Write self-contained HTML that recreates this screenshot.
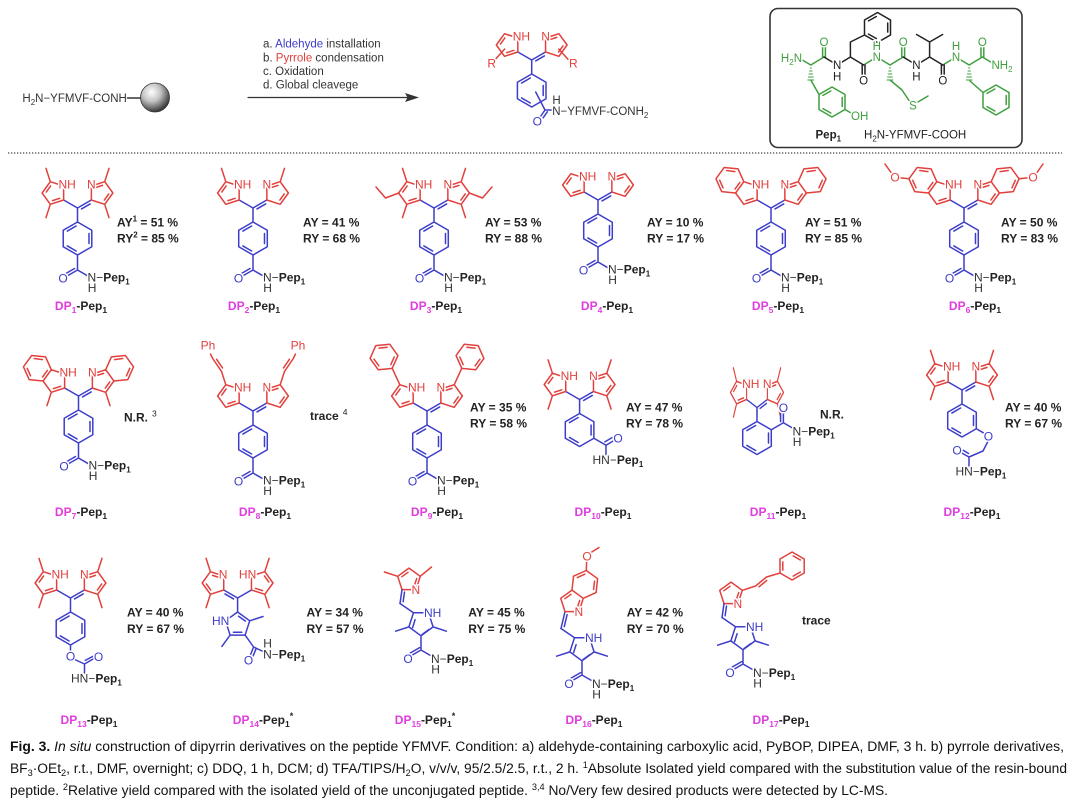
<!DOCTYPE html>
<html><head><meta charset="utf-8">
<style>
html,body{margin:0;padding:0;background:#fff;width:1080px;height:803px;overflow:hidden}
svg{display:block}
text{font-family:"Liberation Sans",Arial,sans-serif}
.al{font-size:12px;stroke:#fff;stroke-width:3px;paint-order:stroke;stroke-linejoin:round}
.ps{font-size:11.5px}
.tr{fill:#e2403c}.tb{fill:#3d3dc9}.tk{fill:#333}.tg{fill:#3f9f3f}.tK{fill:#222}
.bd{font-weight:bold;fill:#222}
.ay{font-size:12px;font-weight:bold;fill:#222}
.dl{font-size:12px;font-weight:bold;fill:#222}
.m{fill:#e03ce0}
</style></head><body>
<svg width="1080" height="803" viewBox="0 0 1080 803" stroke-width="1.5" stroke-linecap="round" stroke-linejoin="round">
<defs>
<radialGradient id="ballg" cx="0.38" cy="0.32" r="0.7">
<stop offset="0" stop-color="#ffffff"/><stop offset="0.45" stop-color="#c4c4c4"/><stop offset="0.85" stop-color="#5a5a5a"/><stop offset="1" stop-color="#333"/>
</radialGradient>
<g id="core">
<path stroke="#3d3dc9" fill="none" d="M0 0L-13.86 -8M0 0L13.86 -8M4 0.92L12.66 -4.08"/>
<path stroke="#e2403c" fill="none" d="M-13.86 -8L-13.86 -22L-27.2 -26.3L-35.4 -15L-27.2 -3.7Z M13.86 -8L13.86 -22L27.2 -26.3L35.4 -15L27.2 -3.7Z M-17.8 -9.66L-25 -7.35 M17.8 -20.34L25 -22.65 M26.83 -7.94L31.25 -14.04"/>
</g>
<path id="c45" stroke="#e2403c" fill="none" d="M-31.25 -15.96L-26.83 -22.06"/>
<path id="me5" stroke="#e2403c" fill="none" d="M-27.2 -26.3L-31.5 -39.6M27.2 -26.3L31.5 -39.6"/>
<path id="me3" stroke="#e2403c" fill="none" d="M-27.2 -3.7L-31.5 9.6M27.2 -3.7L31.5 9.6"/>
<path id="hex" stroke="#3d3dc9" fill="none" d="M0 0L0 14 M0 14L14.29 22.25L14.29 38.75L0 47L-14.29 38.75L-14.29 22.25Z M11.49 25.46L11.49 35.54M-1.38 42.97L-10.11 37.93M-10.11 23.07L-1.38 18.03"/>
<path id="pam" stroke="#3d3dc9" fill="none" d="M0 0L0 14 M0 14L14.29 22.25L14.29 38.75L0 47L-14.29 38.75L-14.29 22.25Z M11.49 25.46L11.49 35.54M-1.38 42.97L-10.11 37.93M-10.11 23.07L-1.38 18.03 M0 47L0 62 M0 62L-10.4 68 M-3 60.5L-11.8 65.6 M0 62L10 67.8"/>
<path id="ind" stroke="#e2403c" fill="none" d="M-27.2 -26.3L-32.89 -39.09L-46.81 -40.55L-55.04 -29.22L-49.35 -16.43L-35.4 -15 M-36.08 -36.33L-44.21 -37.46 M-51.3 -27.7L-47.97 -20.23 M-35.96 -18.99L-31.18 -25.6 M27.2 -26.3L32.89 -39.09L46.81 -40.55L55.04 -29.22L49.35 -16.43L35.4 -15 M36.08 -36.33L44.21 -37.46 M51.3 -27.7L47.97 -20.23"/>
<path id="bp" stroke="#3d3dc9" fill="none" d="M7.5 -10.3L-7.5 -10.3L-12.1 3.9L0 12.8L12.1 3.9Z M-5.9 -3.3L-8.4 4.6 M1.1 11.5L7.8 6.6 M-12.1 3.9L-25.4 8.2 M12.1 3.9L25.4 8.2 M0 12.8L0 27 M0 27L-9.5 32.5 M-1.4 24.6L-10.9 30.1 M0 27L9.5 32.5 M-7.5 -10.3L-21 -19.5"/>
<path id="tp" stroke="#e2403c" fill="none" d="M-7 9.63L7 9.63L11.3 -3.7L0 -11.9L-11.3 -3.7Z M5.3 5.7L7.7 -1.5 M-7.1 -3.3L-1 -7.7"/>
<path id="chd" stroke="#3d3dc9" fill="none" d="M-9 23.5L-7 9.63 M-5.9 21.8L-4.5 12.1"/>
</defs>

<!-- ===== TOP SCHEME ===== -->
<text x="22.4" y="102" class="ps" fill="#333">H<tspan font-size="8" dy="3">2</tspan><tspan dy="-3">N−YFMVF-CONH</tspan></text>
<path d="M127.5 98L141 98" stroke="#333" fill="none"/>
<circle cx="155" cy="97.5" r="14.5" fill="url(#ballg)" stroke="#333" stroke-width="0.8"/>

<g class="ps" fill="#333">
<text x="263" y="47.5">a. <tspan fill="#3d3dc9">Aldehyde</tspan> installation</text>
<text x="263" y="61.5">b. <tspan fill="#e2403c">Pyrrole</tspan> condensation</text>
<text x="263" y="75">c. Oxidation</text>
<text x="263" y="88.5">d. Global cleavege</text>
</g>
<path d="M248 97.5L408 97.5" stroke="#333" stroke-width="1.2" fill="none"/>
<polygon points="419,97.5 405,93 407.5,97.5 405,102" fill="#333"/>

<g transform="translate(531.7,60)">
<use href="#core"/><use href="#c45"/><use href="#hex"/>
<path stroke="#e2403c" fill="none" d="M-27 -11L-36.5 -0.5M27 -11L36.5 -0.5"/>
<path stroke="#3d3dc9" fill="none" d="M4 32L13.3 50 M13.3 50L8.8 56.5 M15.6 51.8L11.4 57.8 M13.3 50L20.5 50"/>
<text class="al tr" x="-19" y="-19.7">NH</text><text class="al tr" x="9.5" y="-19.7">N</text>
<text class="al tr" x="-40" y="7.6" text-anchor="middle">R</text><text class="al tr" x="41.6" y="7.6" text-anchor="middle">R</text>
<text class="al tb" x="5.6" y="65.3" text-anchor="middle">O</text>
<text class="al tk ps" x="20.7" y="44.1">H</text>
<text class="al tk ps" x="20.5" y="54.8">N−YFMVF-CONH<tspan font-size="8" dy="3">2</tspan></text>
</g>

<!-- Pep box -->
<rect x="770" y="8.5" width="252" height="139" rx="8" fill="none" stroke="#333" stroke-width="1.6"/>
<path stroke="#3f9f3f" fill="none" d="M799 58L810.8 65L824 57 M822.6 57L822.6 46.5 M825.4 57L825.4 46.5 M810.8 80L819 94.5 M819 94.5L832 87L845 94.5L845 109.5L832 117L819 109.5Z M842.2 97.5L842.2 106.5 M830.8 113L823 108.6 M823 95.4L830.8 91 M845 109.5L851 113
M863.6 65L876.8 57L890 65L903.2 57 M901.8 57L901.8 46.5 M904.6 57L904.6 46.5 M890 80L902 90L909 100.5 M918 102L928 96
M942.8 65L956 57L969.2 65L982.4 57L995.6 65 M981 57L981 46.5 M983.8 57L983.8 46.5 M970 81L983 92.5 M983 92.5L996 85L1009 92.5L1009 107.5L996 115L983 107.5Z M1006.2 95.5L1006.2 104.5 M994.8 111L987 106.6 M987 93.4L994.8 89"/>
<path stroke="#3f9f3f" fill="none" stroke-width="1" d="M810.2 68h1.2M809.6 71h2.4M809 74h3.6M808.4 77h4.8M807.8 80h6 M889.4 68h1.2M888.8 71h2.4M888.2 74h3.6M887.6 77h4.8M887 80h6 M968.6 68h1.2M968 71h2.4M967.4 74h3.6M966.8 77h4.8M966.2 80h6"/>
<path stroke="#222" fill="none" d="M824 57L837.2 65L850.4 57L863.6 65 M862.2 65L862.2 75.5 M865 65L865 75.5 M850.4 57L850.4 42L864.5 35 M864.5 35L864.5 20L877.5 12.5L890.5 20L890.5 35L877.5 42.5Z M887.7 23L887.7 32 M876.3 38.5L868.5 34.1 M868.5 20.9L876.3 16.5
M903.2 57L916.4 65L929.6 57L942.8 65 M941.4 65L941.4 75.5 M944.2 65L944.2 75.5 M929.6 57L929.6 42 M916.6 34.5L929.6 42L942.6 34.5"/>
<g class="al ps" text-anchor="middle">
<text class="tg" x="802" y="62" text-anchor="end">H<tspan font-size="8" dy="3">2</tspan><tspan dy="-3">N</tspan></text>
<text class="tg" x="824" y="46.2">O</text><text class="tK" x="863.6" y="84.7">O</text><text class="tg" x="903.2" y="46.2">O</text><text class="tK" x="942.8" y="84.7">O</text><text class="tg" x="982.4" y="46.2">O</text>
<text class="tK" x="837.2" y="69.2">N</text><text class="tK" x="837.2" y="80.7">H</text>
<text class="tg" x="876.8" y="61.2">N</text><text class="tg" x="876.8" y="50.2">H</text>
<text class="tK" x="916.4" y="69.2">N</text><text class="tK" x="916.4" y="80.7">H</text>
<text class="tg" x="956" y="61.2">N</text><text class="tg" x="956" y="50.2">H</text>
<text class="tg" x="991.5" y="69.2" text-anchor="start">NH<tspan font-size="8" dy="3">2</tspan></text>
<text class="tg" x="913" y="109.7">S</text>
<text class="tg" x="851" y="119.8" text-anchor="start">OH</text>
</g>
<text x="815.5" y="138.5" class="ps bd">Pep<tspan font-size="8" dy="3">1</tspan></text>
<text x="864" y="138.5" class="ps" fill="#222">H<tspan font-size="8" dy="3">2</tspan><tspan dy="-3">N-YFMVF-COOH</tspan></text>

<line x1="8" y1="153" x2="1062" y2="153" stroke="#444" stroke-width="1.2" stroke-dasharray="1.3 1.7" stroke-linecap="butt"/>

<!-- ===== ROW 1 ===== -->
<g transform="translate(77.5,208)">
<use href="#core"/><use href="#c45"/><use href="#me5"/><use href="#me3"/><use href="#pam"/>
<text class="al tr" x="-19" y="-19.7">NH</text><text class="al tr" x="9.5" y="-19.7">N</text>
<text class="al tb" x="-14.5" y="74.3" text-anchor="middle">O</text>
<text class="al tk" x="10" y="73.3">N−<tspan class="bd">Pep</tspan><tspan class="bd" font-size="8" dy="3">1</tspan></text>
<text class="al tk" x="10.2" y="83.8">H</text>
</g>
<g transform="translate(253,208)">
<use href="#core"/><use href="#c45"/><use href="#me5"/><use href="#pam"/>
<text class="al tr" x="-19" y="-19.7">NH</text><text class="al tr" x="9.5" y="-19.7">N</text>
<text class="al tb" x="-14.5" y="74.3" text-anchor="middle">O</text>
<text class="al tk" x="10" y="73.3">N−<tspan class="bd">Pep</tspan><tspan class="bd" font-size="8" dy="3">1</tspan></text>
<text class="al tk" x="10.2" y="83.8">H</text>
</g>
<g transform="translate(434,208)">
<use href="#core"/><use href="#c45"/><use href="#me5"/><use href="#me3"/><use href="#pam"/>
<path stroke="#e2403c" fill="none" d="M-35.4 -15L-48.5 -10L-58 -21 M35.4 -15L48.5 -10L58 -21"/>
<text class="al tr" x="-19" y="-19.7">NH</text><text class="al tr" x="9.5" y="-19.7">N</text>
<text class="al tb" x="-14.5" y="74.3" text-anchor="middle">O</text>
<text class="al tk" x="10" y="73.3">N−<tspan class="bd">Pep</tspan><tspan class="bd" font-size="8" dy="3">1</tspan></text>
<text class="al tk" x="10.2" y="83.8">H</text>
</g>
<g transform="translate(598,200)">
<use href="#core"/><use href="#c45"/><use href="#pam"/>
<text class="al tr" x="-19" y="-19.7">NH</text><text class="al tr" x="9.5" y="-19.7">N</text>
<text class="al tb" x="-14.5" y="74.3" text-anchor="middle">O</text>
<text class="al tk" x="10" y="73.3">N−<tspan class="bd">Pep</tspan><tspan class="bd" font-size="8" dy="3">1</tspan></text>
<text class="al tk" x="10.2" y="83.8">H</text>
</g>
<g transform="translate(771,208)">
<use href="#core"/><use href="#ind"/><use href="#pam"/>
<text class="al tr" x="-19" y="-19.7">NH</text><text class="al tr" x="9.5" y="-19.7">N</text>
<text class="al tb" x="-14.5" y="74.3" text-anchor="middle">O</text>
<text class="al tk" x="10" y="73.3">N−<tspan class="bd">Pep</tspan><tspan class="bd" font-size="8" dy="3">1</tspan></text>
<text class="al tk" x="10.2" y="83.8">H</text>
</g>
<g transform="translate(964,208)">
<use href="#core"/><use href="#ind"/><use href="#pam"/>
<path stroke="#e2403c" fill="none" d="M-55.04 -29.22L-64.5 -30.2 M-73 -35.5L-79 -44 M55.04 -29.22L64.5 -30.2 M73 -35.5L79 -44"/>
<text class="al tr" x="-69" y="-26.4" text-anchor="middle">O</text><text class="al tr" x="69" y="-26.4" text-anchor="middle">O</text>
<text class="al tr" x="-19" y="-19.7">NH</text><text class="al tr" x="9.5" y="-19.7">N</text>
<text class="al tb" x="-14.5" y="74.3" text-anchor="middle">O</text>
<text class="al tk" x="10" y="73.3">N−<tspan class="bd">Pep</tspan><tspan class="bd" font-size="8" dy="3">1</tspan></text>
<text class="al tk" x="10.2" y="83.8">H</text>
</g>

<text class="ay" x="117" y="226.3">AY<tspan font-size="8" dy="-5">1</tspan><tspan dy="5"> = 51 %</tspan></text>
<text class="ay" x="117" y="242.3">RY<tspan font-size="8" dy="-5">2</tspan><tspan dy="5"> = 85 %</tspan></text>
<text class="ay" x="303" y="226.3">AY = 41 %</text><text class="ay" x="303" y="242.3">RY = 68 %</text>
<text class="ay" x="485" y="226.3">AY = 53 %</text><text class="ay" x="485" y="242.3">RY = 88 %</text>
<text class="ay" x="647" y="226.3">AY = 10 %</text><text class="ay" x="647" y="242.3">RY = 17 %</text>
<text class="ay" x="805" y="226.3">AY = 51 %</text><text class="ay" x="805" y="242.3">RY = 85 %</text>
<text class="ay" x="1001" y="226.3">AY = 50 %</text><text class="ay" x="1001" y="242.3">RY = 83 %</text>

<g class="dl" text-anchor="middle">
<text x="81" y="310"><tspan class="m">DP</tspan><tspan class="m" font-size="8.5" dy="3">1</tspan><tspan dy="-3">-Pep</tspan><tspan font-size="8.5" dy="3">1</tspan></text>
<text x="254" y="310"><tspan class="m">DP</tspan><tspan class="m" font-size="8.5" dy="3">2</tspan><tspan dy="-3">-Pep</tspan><tspan font-size="8.5" dy="3">1</tspan></text>
<text x="436" y="310"><tspan class="m">DP</tspan><tspan class="m" font-size="8.5" dy="3">3</tspan><tspan dy="-3">-Pep</tspan><tspan font-size="8.5" dy="3">1</tspan></text>
<text x="607" y="310"><tspan class="m">DP</tspan><tspan class="m" font-size="8.5" dy="3">4</tspan><tspan dy="-3">-Pep</tspan><tspan font-size="8.5" dy="3">1</tspan></text>
<text x="778" y="310"><tspan class="m">DP</tspan><tspan class="m" font-size="8.5" dy="3">5</tspan><tspan dy="-3">-Pep</tspan><tspan font-size="8.5" dy="3">1</tspan></text>
<text x="975" y="310"><tspan class="m">DP</tspan><tspan class="m" font-size="8.5" dy="3">6</tspan><tspan dy="-3">-Pep</tspan><tspan font-size="8.5" dy="3">1</tspan></text>
</g>

<!-- ===== ROW 2 ===== -->
<g transform="translate(78.5,396)">
<use href="#core"/><use href="#ind"/><use href="#me3"/><use href="#pam"/>
<text class="al tr" x="-19" y="-19.7">NH</text><text class="al tr" x="9.5" y="-19.7">N</text>
<text class="al tb" x="-14.5" y="74.3" text-anchor="middle">O</text>
<text class="al tk" x="10" y="73.3">N−<tspan class="bd">Pep</tspan><tspan class="bd" font-size="8" dy="3">1</tspan></text>
<text class="al tk" x="10.2" y="83.8">H</text>
</g>
<g transform="translate(253,411)">
<use href="#core"/><use href="#c45"/><use href="#pam"/>
<path stroke="#e2403c" fill="none" d="M-27.2 -26.3L-31.5 -39.6L-40 -52L-42.5 -57 M-30.47 -43.04L-36.42 -51.72 M27.2 -26.3L31.5 -39.6L40 -52L42.5 -57 M30.47 -43.04L36.42 -51.72"/>
<text class="al tr" x="-45" y="-61.7" text-anchor="middle">Ph</text><text class="al tr" x="45" y="-61.7" text-anchor="middle">Ph</text>
<text class="al tr" x="-19" y="-19.7">NH</text><text class="al tr" x="9.5" y="-19.7">N</text>
<text class="al tb" x="-14.5" y="74.3" text-anchor="middle">O</text>
<text class="al tk" x="10" y="73.3">N−<tspan class="bd">Pep</tspan><tspan class="bd" font-size="8" dy="3">1</tspan></text>
<text class="al tk" x="10.2" y="83.8">H</text>
</g>
<g transform="translate(427,411)">
<use href="#core"/><use href="#c45"/><use href="#pam"/>
<path stroke="#e2403c" fill="none" d="M-27.2 -26.3L-34.77 -42.67 M-34.77 -42.67L-48.69 -41.21L-56.92 -52.54L-51.23 -65.33L-37.31 -66.79L-29.08 -55.46Z M-48.14 -45.21L-52.94 -51.83 M-48.04 -62.85L-39.91 -63.7 M-32.82 -53.94L-36.15 -46.47 M27.2 -26.3L34.77 -42.67 M34.77 -42.67L48.69 -41.21L56.92 -52.54L51.23 -65.33L37.31 -66.79L29.08 -55.46Z M48.14 -45.21L52.94 -51.83 M48.04 -62.85L39.91 -63.7 M32.82 -53.94L36.15 -46.47"/>
<text class="al tr" x="-19" y="-19.7">NH</text><text class="al tr" x="9.5" y="-19.7">N</text>
<text class="al tb" x="-14.5" y="74.3" text-anchor="middle">O</text>
<text class="al tk" x="10" y="73.3">N−<tspan class="bd">Pep</tspan><tspan class="bd" font-size="8" dy="3">1</tspan></text>
<text class="al tk" x="10.2" y="83.8">H</text>
</g>
<g transform="translate(579.6,399.5)">
<use href="#core"/><use href="#c45"/><use href="#me5"/><use href="#me3"/>
<path stroke="#3d3dc9" fill="none" d="M0 0L0 14 M0 14L14.29 22.25L14.29 38.75L0 47L-14.29 38.75L-14.29 22.25Z M11.49 25.46L11.49 35.54M-1.38 42.97L-10.11 37.93M-10.11 23.07L-1.38 18.03 M14.29 38.75L26.4 45.75 M26.4 45.75L34.5 41 M25.2 42.4L32.9 37.9 M26.4 45.75L26.4 55"/>
<text class="al tr" x="-19" y="-19.7">NH</text><text class="al tr" x="9.5" y="-19.7">N</text>
<text class="al tb" x="38.5" y="42.8" text-anchor="middle">O</text>
<text class="al tk" x="12.9" y="64.3">HN−<tspan class="bd">Pep</tspan><tspan class="bd" font-size="8" dy="3">1</tspan></text>
</g>
<g transform="translate(757,407.5)">
<g transform="scale(0.75,1)"><use href="#core"/><use href="#c45"/><use href="#me5"/><use href="#me3"/></g>
<path stroke="#3d3dc9" fill="none" d="M0 0L0 14 M0 14L14.29 22.25L14.29 38.75L0 47L-14.29 38.75L-14.29 22.25Z M11.49 25.46L11.49 35.54M-1.38 42.97L-10.11 37.93M-10.11 23.07L-1.38 18.03 M14.29 22.25L26.4 15.25 M26.4 15.25L26.4 5.5 M23.6 14L23.6 6 M26.4 15.25L35.5 20.5"/>
<text class="al tr" x="-14.9" y="-19.7">NH</text><text class="al tr" x="5.9" y="-19.7">N</text>
<text class="al tb" x="26.4" y="4.3" text-anchor="middle">O</text>
<text class="al tk" x="35.5" y="27.8">N−<tspan class="bd">Pep</tspan><tspan class="bd" font-size="8" dy="3">1</tspan></text>
<text class="al tk" x="35.7" y="38.3">H</text>
</g>
<g transform="translate(962,390)">
<use href="#core"/><use href="#c45"/><use href="#me5"/><use href="#me3"/>
<path stroke="#3d3dc9" fill="none" d="M0 0L0 14 M0 14L14.29 22.25L14.29 38.75L0 47L-14.29 38.75L-14.29 22.25Z M11.49 25.46L11.49 35.54M-1.38 42.97L-10.11 37.93M-10.11 23.07L-1.38 18.03 M14.29 38.75L22 43.2 M26.4 50.5L21 61L7 67 M7 67L-1 62.6 M6.6 63.5L1.2 60.3 M7 67L7 76"/>
<text class="al tr" x="-19" y="-19.7">NH</text><text class="al tr" x="9.5" y="-19.7">N</text>
<text class="al tb" x="26.4" y="50.3" text-anchor="middle">O</text>
<text class="al tb" x="-5" y="64.3" text-anchor="middle">O</text>
<text class="al tk" x="-6.5" y="85.3">HN−<tspan class="bd">Pep</tspan><tspan class="bd" font-size="8" dy="3">1</tspan></text>
</g>

<text class="ay" x="124" y="421.7">N.R.<tspan font-weight="normal" font-size="8.5" dx="4" dy="-5">3</tspan></text>
<text class="ay" x="310" y="420">trace<tspan font-weight="normal" font-size="8.5" dx="4" dy="-5">4</tspan></text>
<text class="ay" x="470" y="411.3">AY = 35 %</text><text class="ay" x="470" y="427.3">RY = 58 %</text>
<text class="ay" x="626" y="411.3">AY = 47 %</text><text class="ay" x="626" y="427.3">RY = 78 %</text>
<text class="ay" x="820" y="418.5">N.R.</text>
<text class="ay" x="1005" y="411.3">AY = 40 %</text><text class="ay" x="1005" y="427.3">RY = 67 %</text>

<g class="dl" text-anchor="middle">
<text x="81" y="516"><tspan class="m">DP</tspan><tspan class="m" font-size="8.5" dy="3">7</tspan><tspan dy="-3">-Pep</tspan><tspan font-size="8.5" dy="3">1</tspan></text>
<text x="265" y="516"><tspan class="m">DP</tspan><tspan class="m" font-size="8.5" dy="3">8</tspan><tspan dy="-3">-Pep</tspan><tspan font-size="8.5" dy="3">1</tspan></text>
<text x="437" y="516"><tspan class="m">DP</tspan><tspan class="m" font-size="8.5" dy="3">9</tspan><tspan dy="-3">-Pep</tspan><tspan font-size="8.5" dy="3">1</tspan></text>
<text x="603" y="516"><tspan class="m">DP</tspan><tspan class="m" font-size="8.5" dy="3">10</tspan><tspan dy="-3">-Pep</tspan><tspan font-size="8.5" dy="3">1</tspan></text>
<text x="778" y="516"><tspan class="m">DP</tspan><tspan class="m" font-size="8.5" dy="3">11</tspan><tspan dy="-3">-Pep</tspan><tspan font-size="8.5" dy="3">1</tspan></text>
<text x="972" y="516"><tspan class="m">DP</tspan><tspan class="m" font-size="8.5" dy="3">12</tspan><tspan dy="-3">-Pep</tspan><tspan font-size="8.5" dy="3">1</tspan></text>
</g>

<!-- ===== ROW 3 ===== -->
<g transform="translate(70.5,598)">
<use href="#core"/><use href="#c45"/><use href="#me5"/><use href="#me3"/>
<path stroke="#3d3dc9" fill="none" d="M0 0L0 14 M0 14L14.29 22.25L14.29 38.75L0 47L-14.29 38.75L-14.29 22.25Z M11.49 25.46L11.49 35.54M-1.38 42.97L-10.11 37.93M-10.11 23.07L-1.38 18.03 M0 47L0 53 M4.2 61.5L14 66 M14 66L23.5 60.5 M14.8 62.4L22.5 58.3 M14 66L14 75"/>
<text class="al tr" x="-19" y="-19.7">NH</text><text class="al tr" x="9.5" y="-19.7">N</text>
<text class="al tb" x="0" y="62.3" text-anchor="middle">O</text>
<text class="al tb" x="28" y="62.8" text-anchor="middle">O</text>
<text class="al tk" x="0.5" y="84.3">HN−<tspan class="bd">Pep</tspan><tspan class="bd" font-size="8" dy="3">1</tspan></text>
</g>
<g transform="translate(237.6,598)">
<use href="#core" transform="scale(-1,1)"/><use href="#c45" transform="scale(-1,1)"/><use href="#me5"/><use href="#me3"/>
<path stroke="#3d3dc9" fill="none" d="M0 0L0 14 M0 14L12.14 22.8L7.5 37.08L-7.5 37.08L-12.14 22.8Z M1.06 18.23L7.79 23.1 M4.16 34.28L-4.16 34.28 M12.14 22.8L25.4 18.5 M-7.5 37.08L-15.7 48.4 M7.5 37.08L16 49 M16 49L12.8 57 M18.6 50.3L15.6 57.8 M16 49L25.5 53.5"/>
<text class="al tr" x="-18.8" y="-19.7">N</text><text class="al tr" x="1.3" y="-19.7">HN</text>
<text class="al tb" x="-25.6" y="27.1">HN</text>
<text class="al tb" x="11" y="66.3" text-anchor="middle">O</text>
<text class="al tk" x="25.7" y="49.3">H</text>
<text class="al tk" x="25.5" y="60.3">N−<tspan class="bd">Pep</tspan><tspan class="bd" font-size="8" dy="3">1</tspan></text>
</g>
<!-- DP15 -->
<g transform="translate(421,623)">
<use href="#bp"/>
<text class="al tb" x="3" y="-6">NH</text>
<text class="al tb" x="-13" y="39.8" text-anchor="middle">O</text>
<text class="al tk" x="10" y="39.8">N−<tspan class="bd">Pep</tspan><tspan class="bd" font-size="8" dy="3">1</tspan></text>
<text class="al tk" x="10.2" y="50.3">H</text>
</g>
<g transform="translate(409,580)">
<use href="#tp"/><use href="#chd"/>
<path stroke="#e2403c" fill="none" d="M-11.3 -3.7L-24.6 -8 M11.3 -3.7L22.5 -13"/>
<text class="al tr" x="2.5" y="13.9">N</text>
</g>
<!-- DP16 -->
<g transform="translate(582,648)">
<use href="#bp"/>
<text class="al tb" x="3" y="-6">NH</text>
<text class="al tb" x="-13" y="39.8" text-anchor="middle">O</text>
<text class="al tk" x="10" y="39.8">N−<tspan class="bd">Pep</tspan><tspan class="bd" font-size="8" dy="3">1</tspan></text>
<text class="al tk" x="10.2" y="50.3">H</text>
</g>
<path stroke="#3d3dc9" fill="none" d="M561 628.5L565 611.6 M564.3 626.6L567.1 614.7"/>
<path stroke="#e2403c" fill="none" d="M565 611.6L579 611.6L583.3 598.3L572 590.1L560.7 598.3Z M583.3 598.3L596.1 592.6L597.6 578.7L586.3 570.5L573.5 576.2L572 590.1 M564.9 598.7L571 594.3 M577.3 607.7L579.7 600.5 M593.6 589.4L594.5 581.3 M584.8 574.2L577.3 577.6 M586.3 570.5L586.6 561.5 M591 552.5L599 547.5"/>
<text class="al tr" x="587" y="560.3" text-anchor="middle">O</text>
<text class="al tr" x="574.5" y="615.9">N</text>
<!-- DP17 -->
<g transform="translate(743,637)">
<use href="#bp"/>
<text class="al tb" x="3" y="-6">NH</text>
<text class="al tb" x="-13" y="39.8" text-anchor="middle">O</text>
<text class="al tk" x="10" y="39.8">N−<tspan class="bd">Pep</tspan><tspan class="bd" font-size="8" dy="3">1</tspan></text>
<text class="al tk" x="10.2" y="50.3">H</text>
</g>
<g transform="translate(731,594)">
<use href="#tp"/><use href="#chd"/>
<path stroke="#e2403c" fill="none" d="M11.3 -3.7L24.6 -8L35.5 -17L49 -21 M28 -7.2L35.7 -13.5 M49 -21L61.1 -14L73.2 -21L73.2 -35L61.1 -42L49 -35Z M62.2 -17.9L69.3 -22 M69.3 -34L62.2 -38.1 M51.8 -32.1L51.8 -23.9"/>
<text class="al tr" x="2.5" y="13.9">N</text>
</g>

<text class="ay" x="127" y="616.3">AY = 40 %</text><text class="ay" x="127" y="632.8">RY = 67 %</text>
<text class="ay" x="306.5" y="616.3">AY = 34 %</text><text class="ay" x="306.5" y="632.8">RY = 57 %</text>
<text class="ay" x="468.3" y="616.3">AY = 45 %</text><text class="ay" x="468.3" y="632.8">RY = 75 %</text>
<text class="ay" x="626.7" y="616.3">AY = 42 %</text><text class="ay" x="626.7" y="632.8">RY = 70 %</text>
<text class="ay" x="802" y="624.3">trace</text>

<g class="dl" text-anchor="middle">
<text x="89" y="724"><tspan class="m">DP</tspan><tspan class="m" font-size="8.5" dy="3">13</tspan><tspan dy="-3">-Pep</tspan><tspan font-size="8.5" dy="3">1</tspan></text>
<text x="263" y="724"><tspan class="m">DP</tspan><tspan class="m" font-size="8.5" dy="3">14</tspan><tspan dy="-3">-Pep</tspan><tspan font-size="8.5" dy="3">1</tspan><tspan font-size="9" dy="-8">*</tspan></text>
<text x="425" y="724"><tspan class="m">DP</tspan><tspan class="m" font-size="8.5" dy="3">15</tspan><tspan dy="-3">-Pep</tspan><tspan font-size="8.5" dy="3">1</tspan><tspan font-size="9" dy="-8">*</tspan></text>
<text x="594" y="724"><tspan class="m">DP</tspan><tspan class="m" font-size="8.5" dy="3">16</tspan><tspan dy="-3">-Pep</tspan><tspan font-size="8.5" dy="3">1</tspan></text>
<text x="781" y="724"><tspan class="m">DP</tspan><tspan class="m" font-size="8.5" dy="3">17</tspan><tspan dy="-3">-Pep</tspan><tspan font-size="8.5" dy="3">1</tspan></text>
</g>

<!-- ===== CAPTION ===== -->
<g font-size="13.5" fill="#111">
<text x="10" y="751" textLength="1054" lengthAdjust="spacingAndGlyphs"><tspan font-weight="bold">Fig. 3.</tspan>  <tspan font-style="italic">In situ</tspan> construction of dipyrrin derivatives on the peptide YFMVF. Condition: a) aldehyde-containing carboxylic acid, PyBOP, DIPEA, DMF, 3 h. b) pyrrole derivatives,</text>
<text x="10" y="773" textLength="1057" lengthAdjust="spacingAndGlyphs">BF<tspan font-size="9" dy="3">3</tspan><tspan dy="-3">·OEt</tspan><tspan font-size="9" dy="3">2</tspan><tspan dy="-3">, r.t., DMF, overnight; c) DDQ, 1 h, DCM; d) TFA/TIPS/H</tspan><tspan font-size="9" dy="3">2</tspan><tspan dy="-3">O, v/v/v, 95/2.5/2.5, r.t., 2 h. </tspan><tspan font-size="9" dy="-5">1</tspan><tspan dy="5">Absolute Isolated yield compared with the substitution value of the resin-bound</tspan></text>
<text x="10" y="795" textLength="878" lengthAdjust="spacingAndGlyphs">peptide. <tspan font-size="9" dy="-5">2</tspan><tspan dy="5">Relative yield compared with the isolated yield of the unconjugated peptide. </tspan><tspan font-size="9" dy="-5">3,4</tspan><tspan dy="5"> No/Very few desired products were detected by LC-MS.</tspan></text>
</g>
</svg>
</body></html>
